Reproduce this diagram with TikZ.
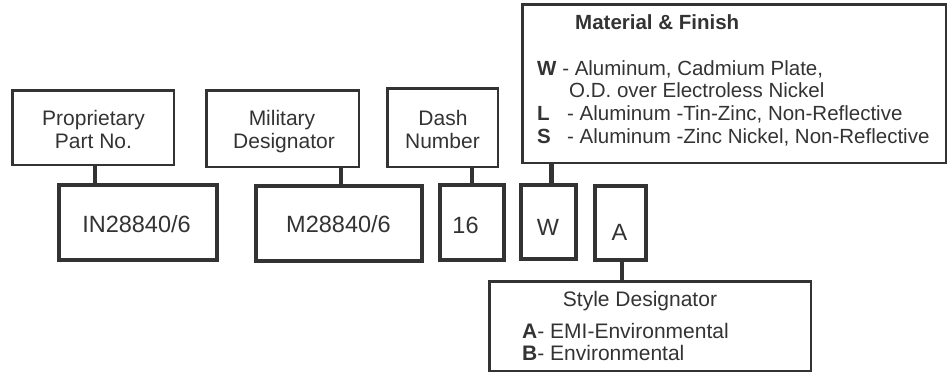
\documentclass[tikz,border=0pt]{standalone}
\usepackage{fontspec}
\setmainfont{Liberation Sans}
\definecolor{ln}{HTML}{333333}
\definecolor{txt}{HTML}{333333}
\tikzset{
  ubox/.style={draw=ln, line width=2.5pt, inner sep=0pt},
  lbox/.style={draw=ln, line width=4pt, inner sep=0pt},
  conn/.style={draw=ln, line width=4.5pt},
  lbl/.style={text=txt, inner sep=0pt, font=\fontsize{21}{24}\selectfont},
  mlbl/.style={text=txt, inner sep=0pt, font=\fontsize{20.5}{24}\selectfont},
  num/.style={text=txt, inner sep=0pt, font=\fontsize{23.5}{26}\selectfont},
}
\begin{document}
\begin{tikzpicture}[x=1pt, y=-1pt]
\useasboundingbox (0,0) rectangle (950,375);
% upper boxes
\node[ubox, minimum width=161.5pt, minimum height=74.5pt] (pp) at (93,127.5) {};
\node[ubox, minimum width=152.5pt, minimum height=76.5pt] (md) at (282.5,128.5) {};
\node[ubox, minimum width=110.5pt, minimum height=78.5pt] (dn) at (442.5,127.5) {};
\node[ubox, minimum width=423.5pt, minimum height=158.5pt] (mf) at (734,83.5) {};
% lower boxes
\node[lbox, minimum width=158pt, minimum height=75pt] (in) at (138,222.5) {};
\node[lbox, minimum width=166pt, minimum height=75pt] (mn) at (339,223.5) {};
\node[lbox, minimum width=64pt, minimum height=75pt] (sx) at (472,222.5) {};
\node[lbox, minimum width=55pt, minimum height=74pt] (w) at (548.5,222) {};
\node[lbox, minimum width=51pt, minimum height=74pt] (a) at (620.5,223) {};
% style box
\node[ubox, minimum width=321.5pt, minimum height=89.5pt] (sd) at (650,326) {};
% connectors
\draw[conn] ([xshift=2pt]pp.south) -- ([xshift=2pt]pp.south |- in.north);
\draw[conn] ([xshift=2pt]mn.north |- md.south) -- ([xshift=2pt]mn.north);
\draw[conn] (sx.north |- dn.south) -- (sx.north);
\draw[conn] ([xshift=3pt]w.north |- mf.south) -- ([xshift=3pt]w.north);
\draw[conn] ([xshift=1.5pt]a.south) -- ([xshift=1.5pt]a.south |- sd.north);
% upper texts
\node[lbl, anchor=base] (pp1) at (93.5,125.5) {Proprietary};
\node[lbl, anchor=base] (pp2) at (93.5,148.5) {Part No.};
\node[lbl, anchor=base] (md1) at (282,125.5) {Military};
\node[lbl, anchor=base] (md2) at (284,148.5) {Designator};
\node[lbl, anchor=base] (dn1) at (443,125.5) {Dash};
\node[lbl, anchor=base] (dn2) at (442.5,148.5) {Number};
% material texts
\node[mlbl, anchor=base west] (mft) at (575,29.5) {\bfseries Material \& Finish};
\node[mlbl, anchor=base west] (mw) at (537,75) {{\bfseries W} - Aluminum, Cadmium Plate,};
\node[mlbl, anchor=base west] (mw2) at (569,97.5) {O.D. over Electroless Nickel};
\node[mlbl, anchor=base west] (ml) at (537,120) {\makebox[30pt][l]{\bfseries L}- Aluminum -Tin-Zinc, Non-Reflective};
\node[mlbl, anchor=base west] (ms) at (537,143) {\makebox[30pt][l]{\bfseries S}- Aluminum -Zinc Nickel, Non-Reflective};
% numbers
\node[num, anchor=base] (int) at (136.5,232.5) {IN28840/6};
\node[num, anchor=base] (mnt) at (338.5,232.5) {M28840/6};
\node[num, anchor=base] (sxt) at (465.5,233) {16};
\node[num, anchor=base] (wt) at (548,235) {W};
\node[num, anchor=base] (at) at (619.5,240) {A};
% style texts
\node[lbl, anchor=base] (sdt) at (640,306) {Style Designator};
\node[lbl, anchor=base west] (sda) at (522,338) {{\bfseries A}- EMI-Environmental};
\node[lbl, anchor=base west] (sdb) at (522,360.5) {{\bfseries B}- Environmental};
\end{tikzpicture}
\end{document}
